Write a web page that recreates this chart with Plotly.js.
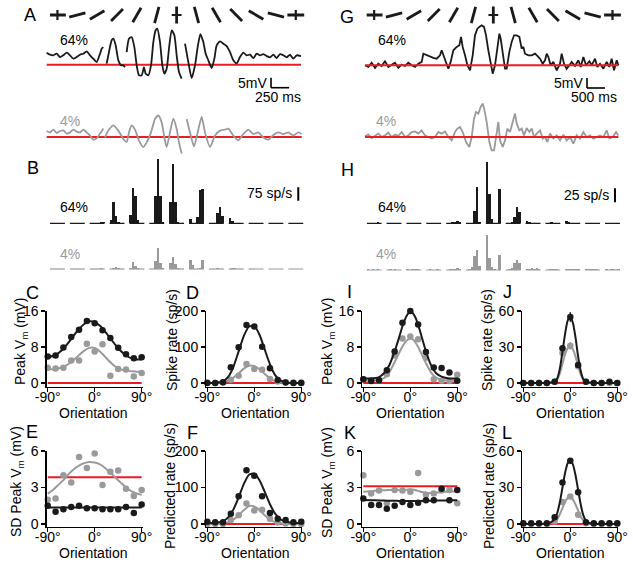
<!DOCTYPE html>
<html><head><meta charset="utf-8">
<script src="https://cdn.plot.ly/plotly-3.0.1.min.js"></script>
<style>html,body{margin:0;padding:0;background:#fff}</style>
</head><body><div id="chart" style="width:633px;height:565px"></div>
<script>
// ---------------- DATA ----------------
const orientations=[-90,-75,-60,-45,-30,-15,0,15,30,45,60,75,90];
const fitX=[-90,-80,-70,-60,-50,-40,-30,-20,-10,0,10,20,30,40,50,60,70,80,90];
const fitXFine=[-90,-75,-60,-50,-40,-30,-25,-20,-15,-10,-5,0,5,10,15,20,25,30,40,50,60,75,90];

// Panel A: membrane potential traces (ms, mV re: threshold)
const aTime64=[23,69,115,161,207,253,299,345,391,437,483,529,575,621,667,713,759,782,805,828,851,874,920,943,975,1012,1049,1081,1104,1115,1127,1159,1196,1233,1265,1297,1334,1366,1389,1426,1463,1495,1527,1550,1587,1619,1647,1679,1711,1748,1785,1817,1849,1886,1910,1932,1978,2024,2070,2107,2144,2185,2217,2254,2300,2337,2369,2415,2461,2507,2553,2599,2645,2691,2737,2783,2829,2875,2921,2967,3013,3059,3105,3151,3197,3243,3289,3335,3381,3427,3473,3533];
const aVm64=[6.0,5.0,4.7,5.5,3.8,4.7,6.0,4.7,3.0,3.8,5.0,5.5,6.7,4.7,3.0,1.3,5.5,8.0,8.8,null,0.5,4.7,12.2,13.0,9.7,2.2,-0.3,-0.3,-1.2,null,6.3,13.0,13.8,8.8,-0.3,-5.3,-5.3,-1.2,-4.5,-5.3,-0.3,11.3,17.2,18.0,11.3,-0.3,-4.5,-2.0,8.0,17.2,14.7,4.7,-3.7,-7.0,null,10.5,1.3,-6.7,-0.3,8.8,15.3,11.3,5.5,2.2,-1.7,3.0,9.7,11.7,10.5,9.3,6.3,2.2,0.7,3.8,6.0,4.7,5.0,3.3,5.5,4.7,5.3,4.3,3.7,5.0,3.3,5.3,4.7,3.7,5.0,3.0,4.7,4.3];
const aTime4=[23,69,115,161,207,253,299,345,391,437,483,529,575,621,667,713,759,805,816,828,874,943,1012,1081,1127,1159,1196,1242,1297,1357,1403,1463,1518,1564,1610,1647,1679,1725,1771,1817,1849,1886,1920,1955,2001,2056,2107,2162,2208,2277,2346,2415,2484,2530,2599,2668,2737,2806,2875,2944,3013,3082,3151,3220,3289,3358,3427,3496,3542];
const aVm4=[3.0,2.3,3.7,2.0,3.0,3.3,1.7,2.3,3.7,2.7,2.3,3.7,2.3,0.7,-1.3,-0.7,1.7,4.3,null,-0.2,3.2,5.8,3.2,-1.0,-2.5,2.3,5.8,3.7,-1.8,-5.0,-2.7,2.3,9.0,10.8,7.3,-0.2,-5.0,2.3,9.2,4.0,-2.7,-8.3,null,9.0,2.3,-4.7,2.3,10.0,2.3,-5.0,0.7,3.2,3.7,4.2,0.7,-1.7,1.5,3.7,1.5,2.3,-0.2,-1.3,1.0,2.3,1.5,2.3,0.7,2.3,1.5];

// Panel G: membrane potential traces
const gTime64=[139,231,324,416,509,601,694,786,879,971,1064,1156,1249,1341,1434,1526,1619,1711,1758,1850,1943,2035,2128,2220,2266,2313,2387,2451,2516,2590,2683,2757,2803,2849,2914,2979,3053,3127,3191,3256,3312,3376,3441,3497,3561,3626,3682,3746,3811,3867,3904,3959,4024,4070,4144,4209,4274,4348,4422,4486,4533,4579,4671,4764,4856,4949,4995,5069,5134,5180,5226,5291,5365,5458,5550,5596,5661,5735,5809,5874,5966,6059,6124,6198,6272,6364,6429,6521,6586,6660,6753,6845,6919,6984,7049,7123,7169];
const gVm64=[0.0,-0.8,1.3,-1.3,0.8,-0.3,2.0,-0.8,0.3,1.3,-1.3,0.3,-0.3,1.3,0.0,-0.8,0.8,1.7,5.8,5.0,4.2,3.7,3.3,5.0,7.5,5.0,1.7,-1.7,1.7,7.5,9.2,10.0,14.2,9.2,5.0,0.0,-2.5,5.0,15.0,18.3,19.2,20.0,19.2,15.0,7.5,0.0,-4.2,0.0,10.0,15.8,13.3,5.0,-1.7,-1.7,6.7,11.7,15.0,15.0,14.2,8.3,9.2,5.8,5.0,5.0,5.8,4.2,3.3,0.8,2.5,5.8,4.2,0.0,1.7,-2.5,0.8,5.8,0.8,-1.7,0.0,1.7,-0.3,2.5,-0.8,4.2,0.0,2.0,0.0,3.3,-0.8,0.8,-1.7,1.7,-0.8,3.3,-2.5,2.5,0.0];
const gTime4=[139,231,324,416,509,601,694,786,879,971,1064,1156,1249,1341,1434,1526,1619,1711,1804,1896,1989,2081,2174,2266,2359,2451,2544,2636,2701,2775,2849,2942,3034,3099,3164,3219,3284,3349,3404,3450,3515,3589,3654,3719,3793,3839,3885,3959,4024,4089,4163,4237,4301,4348,4422,4486,4551,4625,4699,4764,4829,4903,4995,5069,5134,5199,5273,5365,5458,5550,5643,5735,5828,5920,6013,6105,6198,6290,6383,6475,6568,6660,6753,6845,6919,7012,7104,7169];
const gVm4=[0.5,1.2,-0.5,0.8,1.7,0.0,0.8,2.2,0.0,1.2,0.5,2.5,0.0,0.8,2.5,2.8,1.7,3.3,0.8,0.0,-0.8,0.0,2.5,1.7,2.8,0.0,-1.7,2.5,4.2,5.0,2.5,-2.5,-5.0,0.0,9.2,12.5,11.7,15.0,16.7,13.8,7.5,-2.5,-6.7,-6.7,0.8,7.5,-1.7,-5.0,-1.7,4.2,2.5,7.5,11.7,6.7,3.3,4.2,0.8,4.5,2.5,4.2,0.0,1.7,3.3,-0.8,0.0,-2.5,1.7,-0.8,0.8,-1.7,1.2,-1.7,0.0,-3.3,0.8,-0.8,2.5,0.0,0.8,-0.8,0.0,0.8,0.0,3.3,-0.8,0.0,2.5,0.8];

// Panels B and H: spike-rate histograms (sp/s), 13 stimulus epochs x 6 bins
const binsPerEpoch=6;
const bRate64=[0,0,0,0,0,0, 0,0,0,0,0,0, 0,0,0,2,5,7, 19,122,41,6,0,0, 47,197,156,19,3,0, 0,0,154,360,154,10, 122,334,122,8,4,0, 24,0,0,38,188,195, 0,0,0,56,90,40, 28,13,4,0,0,0, 0,2,1,0,0,0, 0,0,3,2,0,0, 0,0,1,0,0,0];
const bRate4=[0,1,0,0,0,1, 0,0,1,0,0,0, 0,0,0,1,4,2, 0,5,11,4,0,0, 8,38,15,4,0,0, 0,0,45,116,32,6, 32,69,26,6,0,0, 51,23,0,0,5,51, 0,0,2,3,2,0, 0,8,3,0,0,0, 0,1,0,0,1,0, 0,0,1,0,0,1, 0,1,0,0,0,0];
const hRate64=[0,0,0,1,2,1, 0,0,0,0,0,0, 0,0,0,0,1,0, 0,0,0,1,0,0, 0,0,2,3,5,3, 0,0,1,22,64,2, 109,52,7,1,1,61, 0,1,2,12,29,20, 4,2,0,1,0,0, 0,1,2,1,0,0, 4,2,1,0,1,0, 0,0,1,0,0,1, 0,0,1,0,1,0];
const hRate4=[1,0,1,0,1,0, 0,1,0,1,0,0, 1,0,1,2,1,0, 0,1,0,0,1,0, 0,1,1,2,3,2, 0,1,5,25,35,8, 67,21,5,1,0,26, 0,1,3,12,18,12, 2,1,3,2,4,1, 0,2,1,2,1,0, 1,2,1,1,2,1, 1,2,1,2,1,0, 1,0,1,1,0,1];

// Tuning panels (dots at orientations, fits at fitX / fitXFine)
const cPeak64=[5.9,6.1,7.9,10.2,11.8,13.8,13.3,11.7,10.0,7.8,6.4,5.5,5.7];
const cPeak4=[3.35,3.2,3.35,5.0,5.0,8.7,7.0,8.6,1.6,3.1,3.0,1.4,2.2];
const cFit64=[5.8,6.0,6.6,7.6,9.0,10.6,12.0,13.1,13.7,13.5,12.7,11.4,9.9,8.4,7.1,6.1,5.5,5.2,5.2];
const cFit4=[3.1,3.0,3.2,3.6,4.2,5.1,6.2,7.2,7.8,7.8,7.0,5.8,4.6,3.6,3.0,2.7,2.6,2.5,2.5];
const dRate64=[0,0,2,44,99,161,157,101,41,8,1,0,0];
const dRate4=[1,0,1,9,20,53,39,37,11,4,2,1,1];
const dFit64=[0,0,1,5,17,45,88,131,157,158,134,93,52,22,7,2,0,0,0];
const dFit4=[0,0,1,3,7,15,27,40,48,47,38,25,13,5,2,0,0,0,0];
const eSD64=[1.5,1.0,1.2,1.4,1.5,1.3,1.3,1.2,1.2,1.2,1.4,0.9,1.6];
const eSD4=[2.0,2.1,4.0,3.4,5.5,4.6,5.8,3.2,4.3,4.4,2.9,2.3,2.8];
const eFit64=[1.35,1.35,1.35,1.35,1.35,1.35,1.35,1.35,1.35,1.35,1.35,1.35,1.35,1.35,1.35,1.35,1.35,1.35,1.35];
const eFit4=[2.5,2.8,3.2,3.6,4.1,4.5,4.8,5.0,5.1,5.05,4.9,4.6,4.2,3.8,3.4,3.0,2.7,2.5,2.4];
const fPred64=[6,5,5,28,76,147,132,76,30,14,11,5,6];
const fPred4=[0,0,0,11,24,56,37,39,14,4,1,0,0];
const fFit64=[3,3,4,8,18,40,73,110,135,138,120,88,54,28,13,6,4,3,3];
const fFit4=[0,0,0,2,5,12,24,38,49,48,38,24,12,5,2,0,0,0,0];
const iPeak64=[0.8,0.4,0.6,2.8,7.0,13.4,16.0,13.0,6.9,3.4,3.3,2.3,0.5];
const iPeak4=[0.8,0.6,0.6,1.9,6.1,9.9,10.3,9.7,5.6,0.8,0.5,0.4,1.8];
const iFit64=[1.0,1.0,1.3,2.2,4.0,7.0,8.8,10.7,12.6,14.2,15.3,15.8,15.5,14.5,12.9,11.0,9.0,7.0,3.9,2.1,1.4,1.0,1.0];
const iFit4=[0.5,0.5,0.7,1.1,2.4,4.6,5.8,7.0,8.1,9.0,9.6,9.9,9.7,9.0,8.0,6.8,5.6,4.4,2.3,1.1,0.7,0.5,0.5];
const jRate64=[0,0,0,0,1,29,55,15,1,0,0,1,0];
const jRate4=[0,0,0,0,1,25,31,14,1,0,0,0,0];
const jErr64=[0,0,0,0,0,2,4,2,0,0,0,0,0];
const jErr4=[0,0,0,0,0,2,3,2,0,0,0,0,0];
const jFit64=[0,0,0,0,0.2,1,4,12,26,41,52,55,50,38,22,10,3,1,0.2,0,0,0,0];
const jFit4=[0,0,0,0,0.1,1,3,8,16,24,29,30,28,22,14,7,3,1,0.1,0,0,0,0];
const kSD64=[2.1,1.55,1.55,1.25,1.5,1.8,1.55,1.75,1.95,1.95,2.9,1.95,2.8];
const kSD4=[4.0,2.5,2.75,1.7,2.8,2.75,2.65,4.2,2.4,2.5,2.75,2.8,1.7];
const kFit64=[1.97,1.95,1.93,1.92,1.91,1.9,1.9,1.89,1.89,1.88,1.88,1.88,1.88,1.88,1.89,1.89,1.9,1.9,1.91,1.92,1.93,1.94,1.95];
const kFit4=[2.65,2.7,2.75,2.78,2.8,2.8,2.79,2.78,2.78,2.8,2.83,2.85,2.83,2.78,2.72,2.65,2.6,2.57,2.55,2.58,2.62,2.66,2.68];
const lPred64=[0.5,0.5,0.5,0.5,5.5,34,52,26,1.4,0.5,0.5,0.5,0.5];
const lPred4=[0,0,0,0,2,18,22.6,7.6,0.5,0,0,0,0];
const lFit64=[0,0,0,0.1,0.8,4,9,18,30,42,50,52,49,40,28,16,7,2.5,0.3,0,0,0,0];
const lFit4=[0,0,0,0,0.3,1.5,4,8,13,18,21.5,22,20,16,11,6,3,1,0.2,0,0,0,0];

// red reference levels
const redA=0, redG=0, redC=0, redD=0, redE=3.85, redF=0, redI=0, redJ=0, redK=3.1, redL=0;
// scale bars
const aScaleMs=250, aScaleMv=5, gScaleMs=500, gScaleMv=5, bScaleRate=75, hScaleRate=25;

// ---------------- STYLE / LAYOUT ----------------
const W=633,H=565;
const FONT='Liberation Sans, Arial, Helvetica, sans-serif';
const BLACK='#1a1a1a', GRAY='#9a9a9a', RED='#ec1c24';
const px=v=>v/W, py=v=>1-v/H;
const traces=[];
function addLine(x,y,xa,ya,color,width,shape){
  traces.push({type:'scatter',mode:'lines',x:x,y:y,xaxis:xa,yaxis:ya,
    line:{color:color,width:width,shape:shape||'linear',smoothing:0.6},connectgaps:false,hoverinfo:'skip'});
}
function addDots(x,y,xa,ya,color,err){
  const t={type:'scatter',mode:'markers',x:x,y:y,xaxis:xa,yaxis:ya,
    marker:{color:color,size:6.5,line:{width:0}},hoverinfo:'skip',cliponaxis:false};
  if(err) t.error_y={type:'data',array:err,visible:true,color:color,thickness:1.5,width:0};
  traces.push(t);
}
function redSpan(arr){const v=arr.filter(a=>a!==null);return [Math.min(...v),Math.max(...v)];}

// A traces
addLine(redSpan(aTime64),[redA,redA],'x','y',RED,2);
addLine(aTime64,aVm64,'x','y',BLACK,1.8,'spline');
addLine(redSpan(aTime4),[redA,redA],'x','y2',RED,2);
addLine(aTime4,aVm4,'x','y2',GRAY,1.8,'spline');
// G traces
addLine(gTime64,gVm64,'x2','y3',BLACK,1.8);
addLine(redSpan(gTime64),[redG,redG],'x2','y3',RED,2);
addLine(gTime4,gVm4,'x2','y4',GRAY,1.8);
addLine(redSpan(gTime4),[redG,redG],'x2','y4',RED,2);

// histograms
const nEpoch=orientations.length, epochSpan=8;
function addHist(rates,xa,ya,color){
  const x=rates.map((r,i)=>Math.floor(i/binsPerEpoch)*epochSpan+(i%binsPerEpoch)+0.5);
  traces.push({type:'bar',x:x,y:rates,xaxis:xa,yaxis:ya,width:1,marker:{color:color,line:{width:0}},hoverinfo:'skip'});
  const bx=[],by=[];
  for(let e=0;e<nEpoch;e++){bx.push(e*epochSpan,e*epochSpan+binsPerEpoch,null);by.push(0,0,null);}
  addLine(bx,by,xa,ya,color,1.2);
}
addHist(bRate64,'x3','y5',BLACK);
addHist(bRate4,'x3','y6',GRAY);
addHist(hRate64,'x4','y8',BLACK);
addHist(hRate4,'x4','y9',GRAY);

// orientation symbols
function addSymbols(xa,ya){
  const x=orientations.map((o,i)=>i*epochSpan+binsPerEpoch/2);
  traces.push({type:'scatter',mode:'markers',x:x,y:x.map(()=>0),xaxis:xa,yaxis:ya,hoverinfo:'skip',
    marker:{symbol:'line-ew',size:12,angle:orientations.map(o=>-(o+90)),line:{color:BLACK,width:2.8}}});
  const ends=[0,(nEpoch-1)/2,nEpoch-1];
  traces.push({type:'scatter',mode:'markers',x:ends.map(i=>x[i]),y:ends.map(()=>0),xaxis:xa,yaxis:ya,hoverinfo:'skip',
    marker:{symbol:'line-ew',size:7,angle:ends.map(i=>-orientations[i]),line:{color:BLACK,width:2.2}}});
}
addSymbols('x3','y7');
addSymbols('x4','y10');

// tuning panels
const panels=[
  {xa:'x5',ya:'y11',red:redC,d64:cPeak64,d4:cPeak4,fx:fitX,f64:cFit64,f4:cFit4},
  {xa:'x6',ya:'y12',red:redD,d64:dRate64,d4:dRate4,fx:fitX,f64:dFit64,f4:dFit4},
  {xa:'x7',ya:'y13',red:redI,d64:iPeak64,d4:iPeak4,fx:fitXFine,f64:iFit64,f4:iFit4},
  {xa:'x8',ya:'y14',red:redJ,d64:jRate64,d4:jRate4,fx:fitXFine,f64:jFit64,f4:jFit4,e64:jErr64,e4:jErr4},
  {xa:'x9',ya:'y15',red:redE,d64:eSD64,d4:eSD4,fx:fitX,f64:eFit64,f4:eFit4},
  {xa:'x10',ya:'y16',red:redF,d64:fPred64,d4:fPred4,fx:fitX,f64:fFit64,f4:fFit4},
  {xa:'x11',ya:'y17',red:redK,d64:kSD64,d4:kSD4,fx:fitXFine,f64:kFit64,f4:kFit4},
  {xa:'x12',ya:'y18',red:redL,d64:lPred64,d4:lPred4,fx:fitXFine,f64:lFit64,f4:lFit4}
];
panels.forEach(p=>{
  addLine([orientations[0],orientations[orientations.length-1]],[p.red,p.red],p.xa,p.ya,RED,2);
  addLine(p.fx,p.f4,p.xa,p.ya,GRAY,2,'spline');
  addDots(orientations,p.d4,p.xa,p.ya,GRAY,p.e4);
  addLine(p.fx,p.f64,p.xa,p.ya,BLACK,2,'spline');
  addDots(orientations,p.d64,p.xa,p.ya,BLACK,p.e64);
});

// axes
const hidden={visible:false,fixedrange:true};
const layout={width:W,height:H,margin:{l:0,r:0,t:0,b:0},showlegend:false,
  paper_bgcolor:'#fff',plot_bgcolor:'rgba(0,0,0,0)',bargap:0,font:{family:FONT,color:'#000'},
  shapes:[],annotations:[]};
// A
layout.xaxis=Object.assign({domain:[px(45),px(305)],range:[0,3588],anchor:'y'},hidden);
layout.yaxis=Object.assign({domain:[py(92),py(22)],range:[-13.65,21.35],anchor:'x'},hidden);
layout.yaxis2=Object.assign({domain:[py(160),py(100)],range:[-11.5,18.5],anchor:'x'},hidden);
// G
layout.xaxis2=Object.assign({domain:[px(360),px(622)],range:[0,7270],anchor:'y3'},hidden);
layout.yaxis3=Object.assign({domain:[py(92),py(22)],range:[-13.35,21.65],anchor:'x2'},hidden);
layout.yaxis4=Object.assign({domain:[py(160),py(100)],range:[-11.5,18.5],anchor:'x2'},hidden);
// B
layout.xaxis3=Object.assign({domain:[px(50),px(308.2)],range:[0,104],anchor:'y5'},hidden);
layout.yaxis5=Object.assign({domain:[py(225),py(155)],range:[-9.6,384],anchor:'x3'},hidden);
layout.yaxis6=Object.assign({domain:[py(272),py(235)],range:[-16.9,191],anchor:'x3'},hidden);
layout.yaxis7=Object.assign({domain:[py(25),py(5)],range:[-1,1],anchor:'x3'},hidden);
// H
layout.xaxis4=Object.assign({domain:[px(366.7),px(624.9)],range:[0,104],anchor:'y8'},hidden);
layout.yaxis8=Object.assign({domain:[py(225),py(155)],range:[-3.0,122],anchor:'x4'},hidden);
layout.yaxis9=Object.assign({domain:[py(273),py(235)],range:[-5.4,62.5],anchor:'x4'},hidden);
layout.yaxis10=Object.assign({domain:[py(25),py(5)],range:[-1,1],anchor:'x4'},hidden);

const axCommon={showline:true,linecolor:'#000',linewidth:1.3,ticks:'outside',ticklen:4,tickwidth:1.3,
  tickcolor:'#000',showgrid:false,zeroline:false,fixedrange:true,tickfont:{family:FONT,size:14,color:'#000'}};
function tx(l,anchor){return Object.assign({domain:[px(l),px(l+96)],range:[-92,92],anchor:anchor,
  tickvals:[-90,0,90],ticktext:['-90°','0°','90°'],ticklabelstandoff:-7},axCommon);}
function ty(top,bot,range,tv,anchor){return Object.assign({domain:[py(bot),py(top)],range:range,anchor:anchor,
  tickvals:tv},axCommon);}
layout.xaxis5=tx(46.7,'y11');  layout.yaxis11=ty(311,386.5,[-0.8,16],[0,8,16],'x5');
layout.xaxis6=tx(206.3,'y12'); layout.yaxis12=ty(311,386.5,[-9.8,200],[0,100,200],'x6');
layout.xaxis7=tx(362.3,'y13'); layout.yaxis13=ty(311,386.5,[-0.8,16],[0,8,16],'x7');
layout.xaxis8=tx(522.3,'y14'); layout.yaxis14=ty(311,386.5,[-2.9,60],[0,30,60],'x8');
layout.xaxis9=tx(46.7,'y15');  layout.yaxis15=ty(451,527,[-0.25,6],[0,3,6],'x9');
layout.xaxis10=tx(206.3,'y16');layout.yaxis16=ty(451,527,[-8.3,200],[0,100,200],'x10');
layout.xaxis11=tx(362.3,'y17');layout.yaxis17=ty(451,527,[-0.25,6],[0,3,6],'x11');
layout.xaxis12=tx(522.3,'y18');layout.yaxis18=ty(451,527,[-2.5,60],[0,30,60],'x12');

// scale bars
function lineShape(xref,yref,x0,y0,x1,y1,w){layout.shapes.push({type:'line',xref:xref,yref:yref,x0:x0,y0:y0,x1:x1,y1:y1,line:{color:'#000',width:w}});}
const aCorner={t:3119,v:-11.5}, gCorner={t:6299,v:-11.35};
lineShape('x','y',aCorner.t,aCorner.v,aCorner.t,aCorner.v+aScaleMv,1.6);
lineShape('x','y',aCorner.t,aCorner.v,aCorner.t+aScaleMs,aCorner.v,1.6);
lineShape('x2','y3',gCorner.t,gCorner.v,gCorner.t,gCorner.v+gScaleMv,1.6);
lineShape('x2','y3',gCorner.t,gCorner.v,gCorner.t+gScaleMs,gCorner.v,1.6);
lineShape('x3','y5',100,127,100,127+bScaleRate,2);
lineShape('x4','y8',100,37.5,100,37.5+hScaleRate,2);

// annotations
function ann(text,x,y,o){layout.annotations.push(Object.assign({text:text,xref:'paper',yref:'paper',x:px(x),y:py(y),
  showarrow:false,xanchor:'center',yanchor:'middle',font:{family:FONT,size:14,color:'#000'}},o||{}));}
const big={font:{family:FONT,size:18,color:'#000'}};
[['A',30,15],['G',347,17],['B',33,168],['H',347,170],['C',32,293],['D',192,293],['I',349,292],['J',507,292],
 ['E',32,432],['F',192,433],['K',350,433],['L',507,433]].forEach(a=>ann(a[0],a[1],a[2],big));
const grayFont={font:{family:FONT,size:14,color:GRAY}};
ann('64%',74,40); ann('4%',70,121,grayFont);
ann('64%',392,40); ann('4%',386,121,grayFont);
ann('64%',74,207); ann('4%',70,254,grayFont);
ann('64%',392,207); ann('4%',386,254,grayFont);
ann('5mV',269,83,{xanchor:'right'}); ann('250 ms',303,97,{xanchor:'right'});
ann('5mV',585,83,{xanchor:'right'}); ann('500 ms',619,97,{xanchor:'right'});
ann('75 sp/s',294,193,{xanchor:'right'}); ann('25 sp/s',611,195,{xanchor:'right'});
// axis titles
const vt={textangle:-90};
ann('Peak V<sub>m</sub> (mV)',21,341,vt); ann('Spike rate (sp/s)',172,340,vt);
ann('Peak V<sub>m</sub> (mV)',328,341,vt); ann('Spike rate (sp/s)',487,340,vt);
ann('SD Peak V<sub>m</sub> (mV)',17,482,vt); ann('Predicted rate (sp/s)',170,486,vt);
ann('SD Peak V<sub>m</sub> (mV)',328,482,vt); ann('Predicted rate (sp/s)',489,486,vt);
[[93,413],[255,413],[410,413],[570,413],[93,553],[255,553],[410,553],[570,553]].forEach(p=>ann('Orientation',p[0],p[1]));

Plotly.newPlot('chart',traces,layout,{staticPlot:true,displayModeBar:false});
</script></body></html>
